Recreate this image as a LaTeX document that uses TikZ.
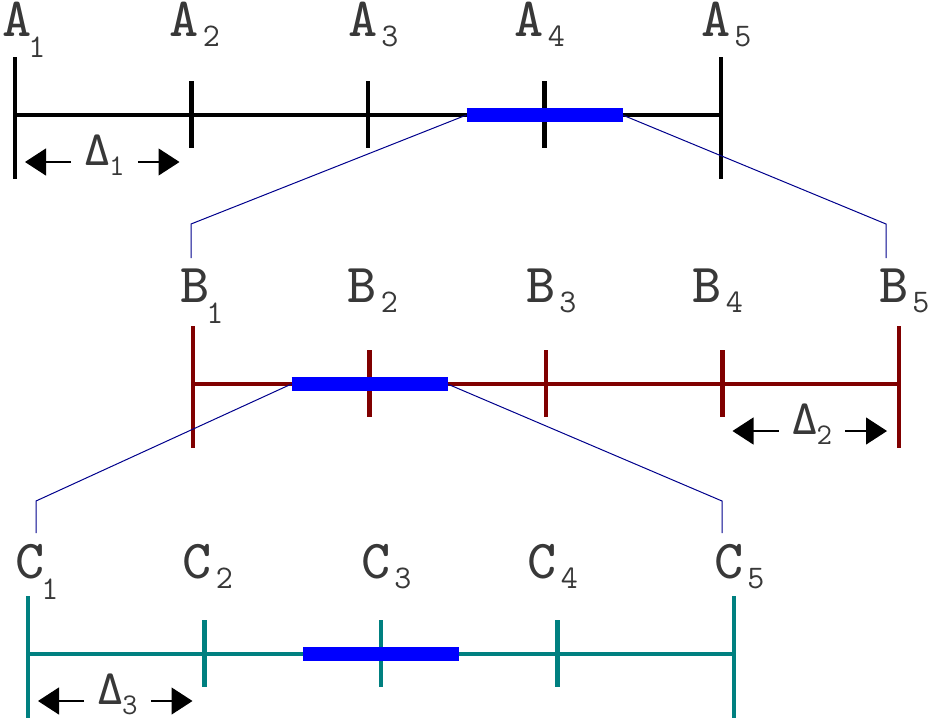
\documentclass[tikz,border=0pt]{standalone}
\usepackage{fix-cm}
\usepackage{graphicx}
\usepackage{xcolor}
\usetikzlibrary{arrows.meta,positioning}

\definecolor{lblgray}{RGB}{56,56,56}
\definecolor{scalered}{RGB}{128,0,0}
\definecolor{scaleteal}{RGB}{0,128,128}
\definecolor{linknavy}{RGB}{0,0,140}

% point names: heavy letter, light index
\newcommand{\ptlbl}[2]{\scalebox{6.875}{\fontsize{8}{8}\selectfont\ttfamily #1}%
  \ifnum#2=1 \hspace{-3pt}\raisebox{-21pt}{\fontsize{33}{33}\selectfont\ttfamily 1}%
  \else\hspace{4pt}\raisebox{-10pt}{\fontsize{33}{33}\selectfont\ttfamily #2}\fi}
\newcommand{\dlbl}[1]{\scalebox{6.125}{\fontencoding{OT1}\fontfamily{cmtt}\fontsize{8}{8}\selectfont\char1}%
  \hspace{-1pt}\raisebox{-10pt}{\fontsize{30}{30}\selectfont\ttfamily #1}}

\begin{document}
\begin{tikzpicture}[x=1pt,y=-1pt,
  tick/.style={line width=4.5pt},
  hilite/.style={draw=blue,line width=14pt},
  link/.style={draw=linknavy,line width=1pt},
  ptlabel/.style={text=lblgray,inner sep=0pt,anchor=base west},
  dimlabel/.style={text=lblgray,inner xsep=13pt,inner ysep=0pt,anchor=base west},
  dimarrow/.style={-{Triangle[length=21pt,width=27pt]},line width=1.2pt}]
  \useasboundingbox (0,0) rectangle (933,718);

  % the three scales with their points
  \foreach \row/\ltr/\x/\y/\base/\clr in {a/A/15/115/36/black,b/B/193/384/302/scalered,c/C/28/654/578/scaleteal}{
    \foreach \i in {1,...,5}
      \coordinate (\row\i) at ({\x+176.5*(\i-1)},\y);
    \draw[tick,\clr] (\row1) -- (\row5);
    \foreach \i in {1,5}
      \draw[tick,\clr] ([yshift=58pt]\row\i) -- ([yshift=-64pt]\row\i);
    \foreach \i in {2,3,4}
      \draw[tick,\clr] ([yshift=34pt]\row\i) -- ([yshift=-33pt]\row\i);
    \foreach \i/\dx in {1/-13,2/-22,3/-20,4/-30,5/-20}
      \node[ptlabel] (l\row\i) at ({\x+176.5*(\i-1)+\dx},\base) {\ptlbl{\ltr}{\i}};
  }

  % zoomed intervals
  \coordinate (hla) at ([xshift=-78pt]a4);
  \coordinate (hra) at ([xshift=78pt]a4);
  \coordinate (hlb) at ([xshift=-78pt]b2);
  \coordinate (hrb) at ([xshift=78pt]b2);
  \coordinate (hlc) at ([xshift=-78pt]c3);
  \coordinate (hrc) at ([xshift=78pt]c3);
  \coordinate (kab1) at (191,224);
  \coordinate (kab1e) at (191,258);
  \coordinate (kab5) at (886,224);
  \coordinate (kab5e) at (886,258);
  \coordinate (kbc1) at (36,501);
  \coordinate (kbc1e) at (36,533);
  \coordinate (kbc5) at (722,501);
  \coordinate (kbc5e) at (722,533);
  \draw[link] (hla) -- (kab1) -- (kab1e);
  \draw[link] (hra) -- (kab5) -- (kab5e);
  \draw[link] (hlb) -- (kbc1) -- (kbc1e);
  \draw[link] (hrb) -- (kbc5) -- (kbc5e);
  \foreach \h in {a,b,c}
    \draw[hilite] (hl\h) -- (hr\h);

  % step widths
  \coordinate (d1l) at (25,162);
  \coordinate (d1r) at (179.5,162);
  \coordinate (d2l) at (732.5,431);
  \coordinate (d2r) at (887,431);
  \coordinate (d3l) at (38,701);
  \coordinate (d3r) at (192.5,701);
  \foreach \idx in {1,2,3}{
    \node[dimlabel] (d\idx) at ([xshift=46pt,yshift=-3pt]d\idx l) {\dlbl{\idx}};
    \draw[dimarrow] (d\idx.west |- d\idx l) -- (d\idx l);
    \draw[dimarrow] (d\idx.east |- d\idx r) -- (d\idx r);
  }
\end{tikzpicture}
\end{document}
